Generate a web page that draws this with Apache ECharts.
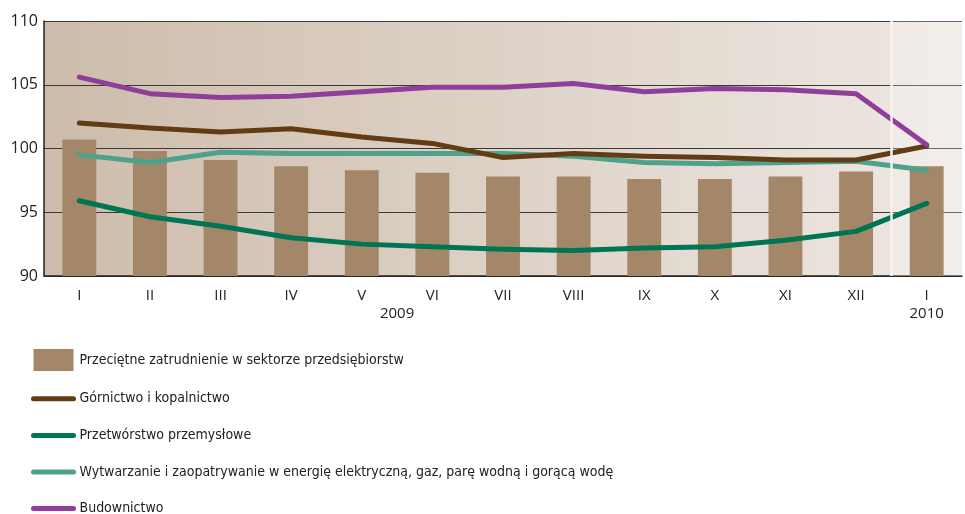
<!DOCTYPE html>
<html><head><meta charset="utf-8">
<script src="https://cdn.jsdelivr.net/npm/echarts@6/dist/echarts.min.js"></script>
<style>html,body{margin:0;padding:0;background:#fff}#c{width:965px;height:514px}</style>
</head><body><div id="c"></div>
<script>
var months = ['I','II','III','IV','V','VI','VII','VIII','IX','X','XI','XII','I'];
var yearLabels = [{pos:5, text:'2009'}, {pos:12.5, text:'2010'}];
var yearBoundary = 12;
var przecietne = [100.7, 99.8, 99.1, 98.6, 98.3, 98.1, 97.8, 97.8, 97.6, 97.6, 97.8, 98.2, 98.6];
var gornictwo = [102.0, 101.6, 101.3, 101.55, 100.9, 100.4, 99.3, 99.6, 99.4, 99.3, 99.1, 99.1, 100.2];
var przetworstwo = [95.9, 94.65, 93.9, 93.0, 92.5, 92.3, 92.1, 92.0, 92.2, 92.3, 92.8, 93.5, 95.7];
var wytwarzanie = [99.5, 98.9, 99.7, 99.6, 99.6, 99.6, 99.6, 99.4, 98.9, 98.8, 98.9, 99.0, 98.3];
var budownictwo = [105.6, 104.3, 104.0, 104.1, 104.45, 104.8, 104.8, 105.1, 104.45, 104.7, 104.6, 104.3, 100.3];
var names = ['Przeciętne zatrudnienie w sektorze przedsiębiorstw','Górnictwo i kopalnictwo','Przetwórstwo przemysłowe','Wytwarzanie i zaopatrywanie w energię elektryczną, gaz, parę wodną i gorącą wodę','Budownictwo'];
var colors = ['#a48769','#623d14','#007553','#4ea18b','#8f3e9b'];

var chart = echarts.init(document.getElementById('c'));
var yearMap = {};
yearLabels.forEach(function(y){ yearMap[y.pos] = y.text; });
function lineSeries(i, data){
  return {name: names[i], type:'line', data:data, symbol:'none', z:3,
    lineStyle:{color:colors[i], width:5, cap:'round', join:'round'}, itemStyle:{color:colors[i]}};
}
var legendData = names.map(function(n, i){
  return i === 0 ? {name:n, icon:'rect'} : {name:n, itemStyle:{opacity:0}, lineStyle:{width:5, cap:'round'}};
});
chart.setOption({
  animation:false,
  textStyle:{fontFamily:'"Open Sans", sans-serif'},
  grid:{left:44, right:1, top:21, bottom:238, show:true, borderWidth:0,
    backgroundColor:{type:'linear', x:0, y:0, x2:1, y2:0, colorStops:[{offset:0,color:'#cdbcab'},{offset:1,color:'#eee8e3'}]}},
  xAxis:[{type:'category', data:months, boundaryGap:true,
      axisLine:{lineStyle:{color:'#222', width:1.5}},
      axisTick:{inside:true, length:6, lineStyle:{color:'#222'}},
      axisLabel:{color:'#222', fontSize:15, margin:12}},
    {type:'value', min:0, max:months.length, interval:0.5, position:'bottom',
      axisLine:{show:false}, axisTick:{show:false}, splitLine:{show:false},
      axisLabel:{color:'#222', fontSize:15, margin:30, showMinLabel:true, showMaxLabel:true,
        formatter:function(v){ return yearMap[v] || ''; }}}],
  yAxis:{type:'value', min:90, max:110, interval:5,
    axisLine:{show:true, lineStyle:{color:'#222', width:1.5}},
    axisTick:{show:false},
    splitLine:{lineStyle:{color:'#3a3a3a', width:1}},
    axisLabel:{color:'#222', fontSize:16, margin:6}},
  legend:{orient:'vertical', left:31, top:349, height:200, padding:0, itemWidth:40, itemHeight:22, itemGap:19,
    textStyle:{color:'#222', fontSize:14, fontFamily:'"Liberation Sans Narrow","DejaVu Sans Condensed","Open Sans",sans-serif', padding:[0,0,0,1]},
    data:legendData},
  series:[
    {name:names[0], type:'bar', data:przecietne, barWidth:'48%', itemStyle:{color:colors[0]}, z:2},
    {type:'line', xAxisIndex:1, data:[], silent:true, z:1,
      markArea:{silent:true, itemStyle:{color:'rgba(255,255,255,0.25)'}, data:[[{xAxis:yearBoundary},{xAxis:months.length}]]},
      markLine:{silent:true, symbol:'none', label:{show:false}, lineStyle:{color:'#f6f2ee', width:2.5, type:'solid'}, data:[{xAxis:yearBoundary}]}},
    lineSeries(3, wytwarzanie),
    lineSeries(1, gornictwo),
    lineSeries(2, przetworstwo),
    lineSeries(4, budownictwo)
  ]
});
</script></body></html>
